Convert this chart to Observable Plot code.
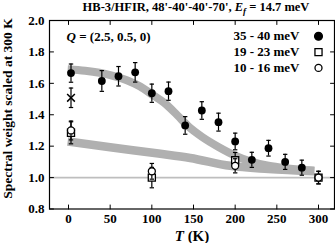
<!DOCTYPE html>
<html><head><meta charset="utf-8">
<script src="https://cdn.jsdelivr.net/npm/d3@7"></script>
<script src="https://cdn.jsdelivr.net/npm/@observablehq/plot@0.6"></script>
<style>
html,body{margin:0;padding:0;background:#fff;}
</style>
</head><body><div id="chart"></div>
<script>
// ---- data ----
const xTicks = [0, 50, 100, 150, 200, 250, 300];
const yTicks = [0.8, 1, 1.2, 1.4, 1.6, 1.8, 2];

// 35 - 40 meV (filled circles)
const highT   = [3, 40, 60, 80, 100, 120, 140, 160, 180, 200, 220, 240, 260, 280];
const highW   = [1.665, 1.615, 1.645, 1.67, 1.537, 1.55, 1.332, 1.427, 1.353, 1.23, 1.113, 1.187, 1.10, 1.063];
const highErr = [0.058, 0.066, 0.062, 0.062, 0.058, 0.058, 0.056, 0.056, 0.057, 0.053, 0.048, 0.05, 0.048, 0.048];

// 19 - 23 meV (open squares)
const midT   = [3, 100, 200, 300];
const midW   = [1.285, 1.0, 1.11, 1.0];
const midErr = [0.07, 0.065, 0.05, 0.04];

// 10 - 16 meV (open circles)
const lowT   = [3, 100, 200, 300];
const lowW   = [1.30, 1.04, 1.075, 1.0];
const lowErr = [0.06, 0.05, 0.045, 0.04];

// extra point (cross)
const starT = [3];
const starW = [1.508];
const starErr = [0.062];

// guide-to-the-eye bands
const upperBandT = [-1, 20, 50, 70, 86, 100, 115, 130, 145, 160, 180, 200, 220, 240, 260, 280, 295];
const upperBandW = [1.69, 1.68, 1.653, 1.62, 1.58, 1.53, 1.475, 1.40, 1.32, 1.26, 1.195, 1.14, 1.10, 1.075, 1.06, 1.05, 1.045];
const lowerBandT = [-1, 50, 108, 146, 194, 240, 295];
const lowerBandW = [1.23, 1.193, 1.153, 1.125, 1.075, 1.055, 1.04];

const legendLabels = ["35 - 40 meV", "19 - 23 meV", "10 - 16 meV"];

// ---- build tables ----
const zip = (T, W, E) => T.map((t, i) => ({T: t, W: W[i], E: E ? E[i] : 0}));
const high = zip(highT, highW, highErr);
const mid = zip(midT, midW, midErr);
const low = zip(lowT, lowW, lowErr);
const star = zip(starT, starW, starErr);
const upperBand = zip(upperBandT, upperBandW);
const lowerBand = zip(lowerBandT, lowerBandW);

const tickShape = {draw(ctx, l) { ctx.moveTo(0, 0); ctx.lineTo(0, -l); }};
const capSymbol = {draw(ctx, size) { const r = Math.sqrt(size / Math.PI); ctx.moveTo(-r, 0); ctx.lineTo(r, 0); }};

function errorMarks(data) {
  return [
    Plot.ruleX(data, {x: "T", y1: d => d.W - d.E, y2: d => d.W + d.E, stroke: "black", strokeWidth: 1.2}),
    Plot.dot(data, {x: "T", y: d => d.W - d.E, symbol: capSymbol, r: 2.2, stroke: "black", strokeWidth: 1.2}),
    Plot.dot(data, {x: "T", y: d => d.W + d.E, symbol: capSymbol, r: 2.2, stroke: "black", strokeWidth: 1.2})
  ];
}

const legendSymbols = [
  {symbol: "circle", r: 3.9, fill: "black", stroke: "black"},
  {symbol: "square", r: 4.0, fill: "white", stroke: "black"},
  {symbol: "circle", r: 3.5, fill: "white", stroke: "black"}
];
const legendMarks = legendLabels.flatMap((lab, i) => [
  Plot.text([lab], {frameAnchor: "top-right", dx: -35, dy: 15.8 + i * 15.8, textAnchor: "end", lineAnchor: "middle", fontSize: 13, fill: "black"}),
  Plot.dot([lab], {frameAnchor: "top-right", dx: -16, dy: 15.8 + i * 15.8, strokeWidth: 1.3, ...legendSymbols[i]})
]);

const chart = Plot.plot({
  width: 335,
  height: 243,
  marginLeft: 49,
  marginRight: 1,
  marginTop: 20,
  marginBottom: 34.5,
  style: {fontFamily: "Liberation Serif", fontWeight: "bold", fontSize: "13px", background: "white", color: "black"},
  x: {domain: [-22.8, 319.2]},
  y: {domain: [0.8, 2]},
  marks: [
    Plot.ruleY([1], {stroke: "#bebebe", strokeWidth: 1.6}),
    Plot.line(lowerBand, {x: "T", y: "W", stroke: "#b0b0b0", strokeWidth: 8.5, curve: "monotone-x", strokeLinecap: "butt"}),
    Plot.line(upperBand, {x: "T", y: "W", stroke: "#b0b0b0", strokeWidth: 8, curve: "monotone-x", strokeLinecap: "butt"}),
    // inward ticks on all four sides
    Plot.vector(xTicks, {x: d => d, frameAnchor: "bottom", length: 4, anchor: "start", shape: tickShape, stroke: "black", strokeWidth: 1}),
    Plot.vector(xTicks, {x: d => d, frameAnchor: "top", length: 4, rotate: 180, anchor: "start", shape: tickShape, stroke: "black", strokeWidth: 1}),
    Plot.vector(yTicks, {y: d => d, frameAnchor: "left", length: 4, rotate: 90, anchor: "start", shape: tickShape, stroke: "black", strokeWidth: 1}),
    Plot.vector(yTicks, {y: d => d, frameAnchor: "right", length: 4, rotate: -90, anchor: "start", shape: tickShape, stroke: "black", strokeWidth: 1}),
    Plot.axisX({ticks: xTicks, tickSize: 0, tickPadding: 5, label: null, fontSize: 13}),
    Plot.axisY({ticks: yTicks, tickSize: 0, tickPadding: 5, label: null, fontSize: 13}),
    Plot.frame({stroke: "black", strokeWidth: 1.2}),
    ...errorMarks(high),
    Plot.dot(high, {x: "T", y: "W", r: 3.9, fill: "black"}),
    ...errorMarks(star),
    Plot.dot(star, {x: "T", y: "W", symbol: "times", r: 3.6, stroke: "black", strokeWidth: 1.5}),
    ...errorMarks(mid),
    Plot.dot(mid, {x: "T", y: "W", symbol: "square", r: 4.0, fill: "white", stroke: "black", strokeWidth: 1.3}),
    ...errorMarks(low),
    Plot.dot(low, {x: "T", y: "W", r: 3.5, fill: "white", stroke: "black", strokeWidth: 1.3}),
    ...legendMarks
  ]
});

document.getElementById("chart").appendChild(chart);

// text annotations with mixed italics
const svg = d3.select(chart);
const title = svg.append("text")
  .attr("x", 196).attr("y", 11)
  .attr("text-anchor", "middle")
  .attr("font-size", 12.5).attr("font-weight", "bold").attr("font-family", "Liberation Serif").attr("fill", "black");
title.append("tspan").text("HB-3/HFIR, 48'-40'-40'-70', ");
title.append("tspan").attr("font-style", "italic").text("E");
title.append("tspan").attr("font-style", "italic").attr("font-size", 9).attr("dy", 3).text("f");
title.append("tspan").attr("dy", -3).text(" = 14.7 meV");

const q = svg.append("text")
  .attr("x", 66.5).attr("y", 41)
  .attr("text-anchor", "start")
  .attr("font-size", 13).attr("font-weight", "bold").attr("font-family", "Liberation Serif").attr("fill", "black");
q.append("tspan").attr("font-style", "italic").text("Q");
q.append("tspan").text(" = (2.5, 0.5, 0)");

const xl = svg.append("text")
  .attr("x", 192).attr("y", 241)
  .attr("text-anchor", "middle")
  .attr("font-size", 15).attr("font-weight", "bold").attr("font-family", "Liberation Serif").attr("fill", "black");
xl.append("tspan").attr("font-style", "italic").text("T");
xl.append("tspan").text(" (K)");

svg.append("text")
  .attr("transform", "translate(11.5,108.5) rotate(-90)")
  .attr("text-anchor", "middle")
  .attr("font-size", 13.5).attr("font-weight", "bold").attr("font-family", "Liberation Serif").attr("fill", "black")
  .text("Spectral weight scaled at 300 K");
</script>
</body></html>
